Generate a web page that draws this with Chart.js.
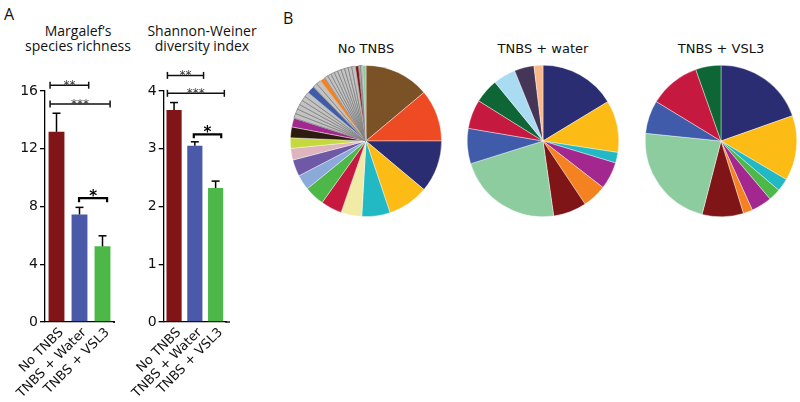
<!DOCTYPE html>
<html><head><meta charset="utf-8">
<script src="https://cdn.jsdelivr.net/npm/chart.js@4.4.1/dist/chart.umd.min.js"></script>
<style>
body{margin:0;background:#fff;}
#wrap{position:relative;width:800px;height:402px;overflow:hidden;background:#fff;}
canvas{position:absolute;}
.lbl{position:absolute;white-space:nowrap;color:#111;font-family:"Open Sans",sans-serif;}
.ttl{position:absolute;width:160px;text-align:center;font-family:"Open Sans",sans-serif;font-size:14px;line-height:15px;color:#111;}
.ptl{position:absolute;width:160px;text-align:center;font-family:"DejaVu Sans",sans-serif;font-size:13px;line-height:15px;color:#111;}
</style></head><body>
<div id="wrap">
  <div class="lbl" style="left:4px;top:3px;font-size:16px;">A</div>
  <div class="lbl" style="left:283px;top:7px;font-size:16px;">B</div>
  <div class="ttl" style="left:-2px;top:23px;">Margalef’s<br>species richness</div>
  <div class="ttl" style="left:122px;top:23px;">Shannon-Weiner<br>diversity index</div>
  <div class="ptl" style="left:286px;top:41px;">No TNBS</div>
  <div class="ptl" style="left:463px;top:41px;">TNBS + water</div>
  <div class="ptl" style="left:641px;top:41px;">TNBS + VSL3</div>
  <canvas id="bar1" width="125" height="402" style="left:0;top:0"></canvas>
  <canvas id="bar2" width="115" height="402" style="left:125px;top:0"></canvas>
  <canvas id="pie1" width="152" height="152" style="left:290px;top:65px"></canvas>
  <canvas id="pie2" width="152" height="152" style="left:467px;top:65px"></canvas>
  <canvas id="pie3" width="152" height="152" style="left:645px;top:65px"></canvas>
</div>
<script>
// ---------- data ----------
const groups = ["No TNBS", "TNBS + Water", "TNBS + VSL3"];
const margalefMean = [13.17, 7.45, 5.24];
const margalefSem  = [1.29, 0.49, 0.73];
const shannonMean  = [3.67, 3.05, 2.32];
const shannonSem   = [0.13, 0.07, 0.12];
const margalefTicks = [0, 4, 8, 12, 16];
const shannonTicks  = [0, 1, 2, 3, 4];

// significance brackets: from/to in category units, level in axis units
const margalefSig = [
  {from: -0.28, to: 1.4,  level: 16.4, label: "**",  kind: "top"},
  {from: -0.28, to: 2.33, level: 15.1, label: "***", kind: "top"},
  {from: 0.98,  to: 2.2,  level: 8.58, label: "*",   kind: "pair"}
];
const shannonSig = [
  {from: -0.32, to: 1.42, level: 4.27, label: "**",  kind: "top"},
  {from: -0.32, to: 2.42, level: 3.96, label: "***", kind: "top"},
  {from: 0.95,  to: 2.27, level: 3.25, label: "*",   kind: "pair"}
];

// relative abundances (%) of taxa, clockwise from 12 o'clock
const noTnbsValues = [13.9, 11.1, 11.1, 8.75, 6.05, 4.45, 4.5, 4.3, 3.25, 3.55, 2.5, 2.25, 2.3, 1.9,
  1.03, 1.03, 1.03, 1.03, 1.04, 1.04, 1.65, 0.97, 0.98, 1.1, 0.77, 0.77, 0.77, 0.77, 0.77, 0.77, 0.78, 0.78, 0.78, 0.7, 0.4, 0.4, 0.75];
const waterValues = [16.3, 11.1, 2.25, 5.8, 5.15, 7.1, 22.4, 7.5, 6.2, 5.2, 4.8, 4.2, 1.9];
const vsl3Values  = [19.6, 13.9, 2.75, 2.6, 4.4, 2.0, 8.8, 22.6, 7.1, 10.9, 5.4];

// ---------- colours ----------
const C = {
  navy:"#2B2D72", gold:"#FDBB16", teal:"#22B9C4", magenta:"#A2288F", orange:"#F58220",
  dred:"#7F1517", lgreen:"#8DCC9F", blue:"#3F5BA9", crimson:"#C5193F", dgreen:"#0E6535",
  sky:"#A9DCF3", dpurple:"#453657", peach:"#F9B88A", brown:"#7B5226", ored:"#EE4B24",
  pyellow:"#F1EBA6", green:"#4DB848", lblue:"#8CAAD9", purple:"#6E59A6", pink:"#DEB4BD",
  ygreen:"#C5D93F", dbrown:"#2E1B10", gray:"#C3C3C3"
};
const noTnbsColors = [C.brown,C.ored,C.navy,C.gold,C.teal,C.pyellow,C.crimson,C.green,C.lblue,C.purple,C.pink,C.ygreen,C.dbrown,C.magenta,
  C.gray,C.gray,C.gray,C.gray,C.gray,C.gray,C.blue,C.gray,C.gray,C.orange,C.gray,C.gray,C.gray,C.gray,C.gray,C.gray,C.gray,C.gray,C.gray,C.dred,C.gray,C.gray,C.lgreen];
const waterColors = [C.navy,C.gold,C.teal,C.magenta,C.orange,C.dred,C.lgreen,C.blue,C.crimson,C.dgreen,C.sky,C.dpurple,C.peach];
const vsl3Colors  = [C.navy,C.gold,C.teal,C.green,C.magenta,C.orange,C.dred,C.lgreen,C.blue,C.crimson,C.dgreen];
const barColors = ["#7F1517", "#4A5AA8", "#4DB848"];

// ---------- plugin for error bars, brackets ----------
const annotPlugin = {
  id: "annot",
  afterDatasetsDraw(chart, args, o) {
    const {ctx, chartArea, scales: {x, y}} = chart;
    const meta = chart.getDatasetMeta(0);
    ctx.save();
    ctx.strokeStyle = "#000"; ctx.lineCap = "butt";
    const ln = (x1, y1, x2, y2) => { ctx.beginPath(); ctx.moveTo(x1, y1); ctx.lineTo(x2, y2); ctx.stroke(); };
    ctx.lineWidth = 1.3;
    ln(chartArea.right - 1, chartArea.bottom, chartArea.right + o.ext, chartArea.bottom);
    ctx.lineWidth = 1.5;
    o.mean.forEach((m, i) => {
      const cx = meta.data[i].x;
      const y0 = y.getPixelForValue(m), y1 = y.getPixelForValue(m + o.sem[i]);
      ln(cx, y0, cx, y1);
      ln(cx - 4, y1, cx + 4, y1);
    });
    const p0 = x.getPixelForValue(0), step = x.getPixelForValue(1) - p0;
    o.sig.forEach(b => {
      const xa = p0 + b.from * step, xb = p0 + b.to * step, yy = y.getPixelForValue(b.level);
      ctx.textAlign = "center";
      if (b.kind === "top") {
        ctx.lineWidth = 1.5; ctx.strokeStyle = "#111";
        ln(xa, yy, xb, yy); ln(xa, yy - 3.5, xa, yy + 3.5); ln(xb, yy - 3.5, xb, yy + 3.5);
        ctx.fillStyle = "#333"; ctx.font = "12px 'DejaVu Sans'";
        ctx.fillText(b.label, (xa + xb) / 2, yy + 4);
      } else {
        ctx.lineWidth = 2.2; ctx.strokeStyle = "#000";
        ctx.beginPath(); ctx.moveTo(xa, yy + 4); ctx.lineTo(xa, yy); ctx.lineTo(xb, yy); ctx.lineTo(xb, yy + 4); ctx.stroke();
        ctx.fillStyle = "#000"; ctx.font = "bold 15px 'DejaVu Sans'";
        ctx.fillText(b.label, (xa + xb) / 2, yy + 3);
      }
    });
    ctx.restore();
  }
};

function barChart(id, mean, sem, ticks, sig, yWidth, padRight, barPct, ext) {
  return new Chart(document.getElementById(id), {
    type: "bar",
    data: { labels: groups, datasets: [{ data: mean, backgroundColor: barColors, borderWidth: 0,
      barPercentage: barPct, categoryPercentage: 1 }] },
    options: {
      responsive: false, animation: false, events: [],
      layout: { padding: { top: 91, right: padRight, left: 0, bottom: 0 } },
      plugins: { legend: { display: false }, tooltip: { enabled: false },
        annot: { mean: mean, sem: sem, sig: sig, ext: ext } },
      scales: {
        x: {
          offset: true,
          grid: { display: false, drawTicks: false },
          border: { display: true, color: "#000", width: 1.3 },
          ticks: { autoSkip: false, minRotation: 45, maxRotation: 45, padding: 3, labelOffset: 5, color: "#111",
                   font: { family: "'DejaVu Sans'", size: 13 } },
          afterFit: s => { s.height = 80; }
        },
        y: {
          min: ticks[0], max: ticks[ticks.length - 1],
          afterBuildTicks: s => { s.ticks = ticks.map(v => ({ value: v })); },
          grid: { drawOnChartArea: false, drawTicks: true, tickLength: 5, color: "#000", lineWidth: 1.3 },
          border: { display: true, color: "#000", width: 1.3 },
          ticks: { padding: 2, color: "#111", font: { family: "'DejaVu Sans'", size: 14 } },
          afterFit: s => { s.width = yWidth; }
        }
      }
    },
    plugins: [annotPlugin]
  });
}

barChart("bar1", margalefMean, margalefSem, margalefTicks, margalefSig, 45, 11, 0.69, 1);
barChart("bar2", shannonMean, shannonSem, shannonTicks, shannonSig, 37, 14, 0.73, 4);

function pieChart(id, values, colors) {
  return new Chart(document.getElementById(id), {
    type: "pie",
    data: { labels: values.map((v, i) => "taxon " + (i + 1)), datasets: [{
      data: values, backgroundColor: colors,
      borderColor: colors.map(c => c === C.gray ? "#808080" : "#ffffff"),
      borderWidth: colors.map(c => c === C.gray ? 0.8 : 0.4)
    }] },
    options: {
      responsive: false, animation: false, events: [],
      layout: { padding: 0 },
      plugins: { legend: { display: false }, tooltip: { enabled: false } }
    }
  });
}
pieChart("pie1", noTnbsValues, noTnbsColors);
pieChart("pie2", waterValues, waterColors);
pieChart("pie3", vsl3Values, vsl3Colors);
</script>
</body></html>
